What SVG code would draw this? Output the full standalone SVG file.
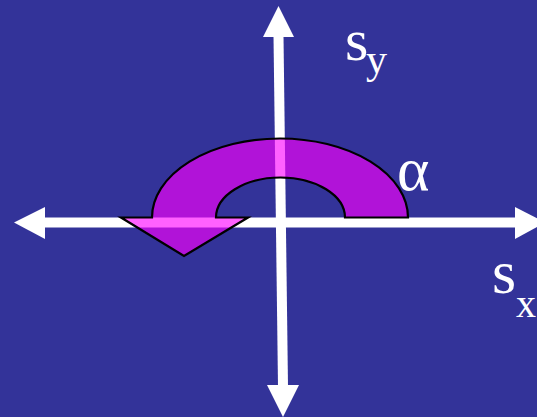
<svg xmlns="http://www.w3.org/2000/svg" width="537" height="417" viewBox="0 0 537 417">
<style>
.axis{stroke:#ffffff;stroke-width:10;fill:none}
.head{fill:#ffffff}
.lbl{fill:#ffffff;font-family:'Liberation Serif','Times New Roman',Times,serif}
.rot{fill:#ff00ff;fill-opacity:0.62;stroke:#000000;stroke-width:2.2;stroke-linejoin:miter}
</style>
<rect x="0" y="0" width="537" height="417" fill="#333399"/>
<g id="connectors">
<line class="axis" x1="44" y1="222.5" x2="516" y2="222.5"/>
<polygon class="head" points="14,222.5 45,207 45,239"/>
<polygon class="head" points="545,222.5 515,207 515,239"/>
<line class="axis" x1="278.5" y1="36" x2="283" y2="386"/>
<polygon class="head" points="278.5,6 263,37 294,37"/>
<polygon class="head" points="283,417 267,385 299,385"/>
</g>
<g id="rotation-arrow">
<path class="rot" d="M408,217.5 A128,79 0 0 0 152,217.5 L121,217.5 L184,256 L248,217.5 L216,217.5 A64.5,40 0 0 1 345,217.5 Z"/>
</g>
<g id="label-sy">
<text class="lbl" x="345" y="60" font-size="60">s</text>
<text class="lbl" x="366" y="73" font-size="42">y</text>
</g>
<g id="label-sx">
<text class="lbl" x="492" y="293" font-size="62">s</text>
<text class="lbl" x="516" y="317" font-size="40">x</text>
</g>
<g id="label-alpha">
<text class="lbl" x="397" y="190" font-size="62">α</text>
</g>
</svg>
